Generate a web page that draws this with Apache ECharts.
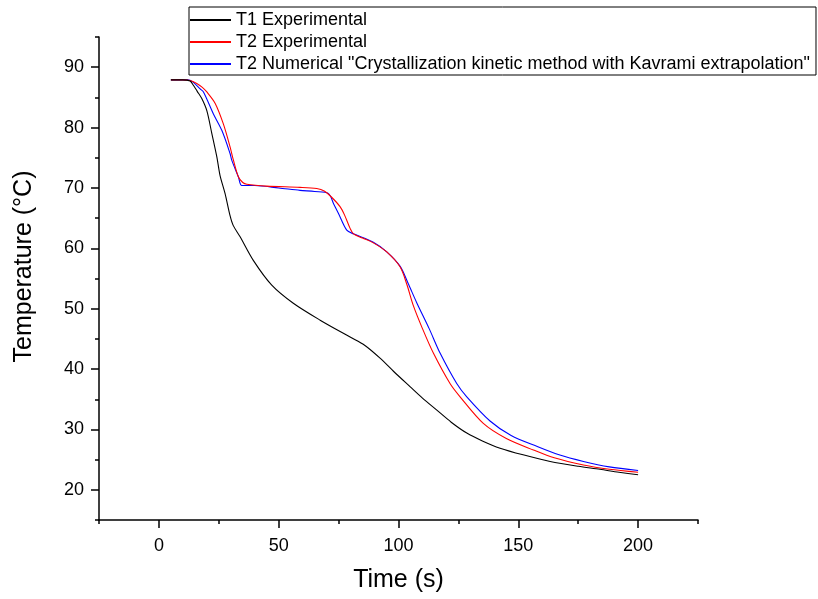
<!DOCTYPE html>
<html>
<head>
<meta charset="utf-8">
<script src="https://cdn.jsdelivr.net/npm/echarts@6/dist/echarts.min.js"></script>
<style>
html,body{margin:0;padding:0;background:#fff;}
#chart{width:818px;height:599px;}
</style>
</head>
<body>
<div id="chart"></div>
<script>
// ---- data ----
var seriesNames = [
  'T1 Experimental',
  'T2 Experimental',
  'T2 Numerical "Crystallization kinetic method with Kavrami extrapolation"'
];
var t1Time = [5, 10, 13, 14.4, 16, 17.9, 20, 22.1, 24.2, 25.5, 27.6, 29.7, 31, 33.9, 39.4, 47.1, 56.1, 67.3, 79.8, 86, 92.3, 98, 104.8, 110, 116, 122, 128.5, 135, 142.4, 152, 163.3, 175, 184.1, 192, 200];
var t1Temp = [87.9, 87.9, 87.7, 87.0, 86.0, 84.8, 82.8, 79.0, 75.1, 72.1, 69.1, 65.4, 63.8, 61.9, 58.0, 53.9, 50.9, 48.1, 45.3, 43.9, 41.8, 39.6, 37.1, 35.2, 33.2, 31.2, 29.4, 28.1, 26.9, 25.8, 24.7, 23.9, 23.4, 22.9, 22.5];
var t2ExpTime = [5, 10, 13, 15.8, 18, 20, 23.5, 26.9, 29.7, 31.1, 33.2, 35, 36.7, 45, 58.9, 65.9, 69, 72, 75.6, 77.5, 79.8, 81.2, 85, 89.5, 95.1, 100.7, 103.5, 106.2, 110, 114.6, 121.5, 125.7, 135.4, 145, 156.3, 165, 177.2, 188, 200];
var t2ExpTemp = [87.9, 87.9, 87.8, 87.3, 86.7, 85.9, 84.0, 80.6, 76.8, 74.6, 71.8, 70.9, 70.6, 70.3, 70.1, 69.9, 69.5, 68.5, 66.9, 65.5, 63.3, 62.4, 61.7, 60.9, 59.4, 56.9, 54.0, 50.5, 46.7, 42.6, 37.6, 35.4, 31.0, 28.5, 26.6, 25.3, 24.1, 23.4, 22.9];
var t2NumTime = [5, 12, 14, 17.2, 18.6, 22.7, 26.3, 29.7, 30.4, 33.2, 34.6, 40, 50, 58.9, 65, 70.7, 73, 74.9, 78.4, 81.2, 89.5, 95.1, 100.7, 104, 107.6, 112.8, 117.4, 124.3, 128.5, 138.2, 147, 157.7, 167, 177.2, 188, 200];
var t2NumTemp = [87.9, 87.9, 87.6, 86.4, 85.9, 82.3, 79.5, 75.7, 74.6, 71.8, 70.4, 70.4, 70.0, 69.6, 69.4, 69.1, 67.3, 65.8, 63.0, 62.4, 61.0, 59.4, 57.0, 54.2, 51.0, 46.7, 42.6, 37.6, 35.4, 31.4, 29.0, 27.2, 25.8, 24.7, 23.8, 23.2];
var xMajorTicks = [0, 50, 100, 150, 200];
var xMinorTicks = [-25, 25, 75, 125, 175, 225];
var yMajorTicks = [20, 30, 40, 50, 60, 70, 80, 90];
var yMinorTicks = [15, 25, 35, 45, 55, 65, 75, 85, 95];
var seriesColors = ['#000000', '#ff0000', '#0000ff'];

function pairs(xs, ys) {
  var out = [];
  for (var i = 0; i < xs.length; i++) out.push([xs[i], ys[i]]);
  return out;
}

var FONT = '"Liberation Sans", Arial, sans-serif';
var chart = echarts.init(document.getElementById('chart'), null, {renderer: 'canvas'});

function xAxisCfg(major) {
  return {
    type: 'value', gridIndex: 0, position: 'bottom',
    min: -25, max: 225, interval: 25,
    name: major ? 'Time (s)' : '',
    nameLocation: 'middle', nameGap: 48,
    nameTextStyle: {fontFamily: FONT, fontSize: 25, color: '#000'},
    axisLine: {show: major, onZero: false, lineStyle: {color: '#000', width: 1.5}},
    axisTick: {show: true, inside: false, length: major ? 8 : 4,
      customValues: major ? xMajorTicks : xMinorTicks,
      lineStyle: {color: '#000', width: 1.5}},
    axisLabel: {show: major, customValues: xMajorTicks, margin: 17,
      fontFamily: FONT, fontSize: 18, color: '#000'},
    splitLine: {show: false}
  };
}
function yAxisCfg(major) {
  return {
    type: 'value', gridIndex: 0, position: 'left',
    min: 15, max: 95, interval: 5,
    name: major ? 'Temperature (\u00B0C)' : '',
    nameLocation: 'middle', nameGap: 62, nameRotate: 90,
    nameTextStyle: {fontFamily: FONT, fontSize: 25, color: '#000', padding: [0, 0, 0, 24]},
    axisLine: {show: major, onZero: false, lineStyle: {color: '#000', width: 1.5}},
    axisTick: {show: true, inside: false, length: major ? 8 : 4,
      customValues: major ? yMajorTicks : yMinorTicks,
      lineStyle: {color: '#000', width: 1.5}},
    axisLabel: {show: major, customValues: yMajorTicks, margin: 15,
      fontFamily: FONT, fontSize: 18, color: '#000'},
    splitLine: {show: false}
  };
}

var dataSets = [pairs(t1Time, t1Temp), pairs(t2ExpTime, t2ExpTemp), pairs(t2NumTime, t2NumTemp)];

var option = {
  backgroundColor: '#fff',
  animation: false,
  grid: {left: 99, right: 120, top: 37, bottom: 79, containLabel: false, outerBoundsMode: 'none'},
  legend: {
    orient: 'vertical', left: 189, top: 7,
    padding: [3, 6, 1, 1],
    itemGap: 2, itemWidth: 41, itemHeight: 2,
    icon: 'rect',
    borderColor: '#000', borderWidth: 1,
    textStyle: {fontFamily: FONT, fontSize: 18, color: '#000', lineHeight: 20},
    data: seriesNames
  },
  xAxis: [xAxisCfg(true), xAxisCfg(false)],
  yAxis: [yAxisCfg(true), yAxisCfg(false)],
  series: seriesNames.map(function (n, i) {
    return {
      name: n, type: 'line', xAxisIndex: 0, yAxisIndex: 0,
      data: dataSets[i], showSymbol: false, symbol: 'none',
      smooth: 0.3,
      color: seriesColors[i],
      lineStyle: {color: seriesColors[i], width: 1.1},
      z: 3 - i
    };
  })
};
chart.setOption(option);
</script>
</body>
</html>
